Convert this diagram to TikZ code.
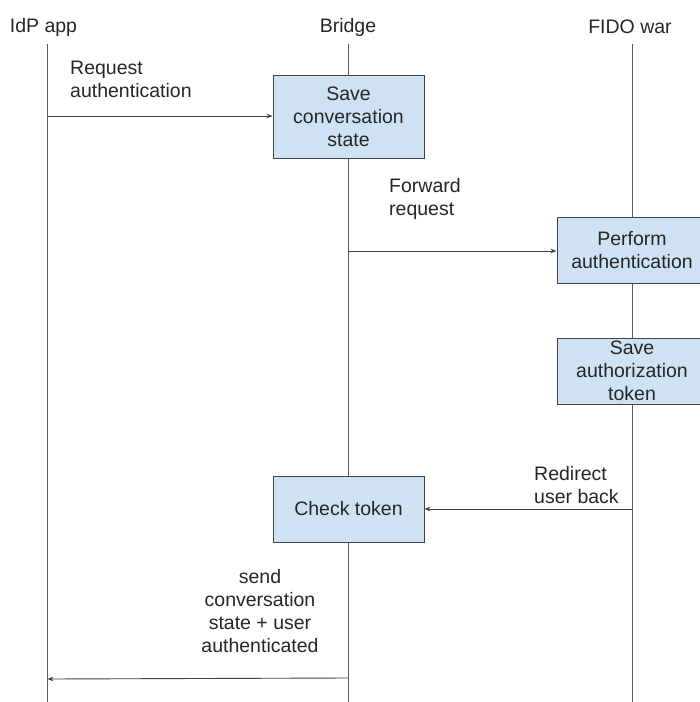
\documentclass[tikz,border=0pt]{standalone}
\usepackage{fontspec}
\setmainfont{Liberation Sans}
\usetikzlibrary{arrows.meta}
\definecolor{boxfill}{HTML}{CFE2F3}
\definecolor{boxline}{HTML}{434343}
\definecolor{lifeline}{HTML}{595959}
\tikzset{
  stepbox/.style={draw=boxline, fill=boxfill, line width=1pt, align=center, inner sep=0pt, minimum width=151pt, text=black!85},
  lbl/.style={inner sep=0pt, text=black!85},
  life/.style={draw=lifeline, line width=1pt},
  msg/.style={draw=black!75, line width=0.9pt, -{Stealth[length=6pt,width=4.5pt]}},
}
\begin{document}
\begin{tikzpicture}[x=1pt, y=-1pt, font=\fontsize{19.5}{23}\selectfont]
\clip (0,0) rectangle (700,702);
\fill[white] (0,0) rectangle (700,702);
% headers
\node[lbl] (h1) at (43.5,27) {IdP app};
\node[lbl] (h2) at (348,27) {Bridge};
\node[lbl] (h3) at (630,27) {FIDO war};
% lifelines
\coordinate (t1) at (47.5,44);  \coordinate (b1) at (47.5,702);
\coordinate (t2) at (348,44);   \coordinate (b2) at (348,702);
\coordinate (t3) at (632,44);   \coordinate (b3) at (632,702);
\draw[life] (t1) -- (b1);
\draw[life] (t2) -- (b2);
\draw[life] (t3) -- (b3);
% boxes
\node[stepbox, minimum height=83pt] (s1) at (348.5,116.5) {Save\\conversation\\state};
\node[stepbox, minimum width=150pt, minimum height=66pt] (s2) at (632,250.5) {Perform\\authentication};
\node[stepbox, minimum width=150pt, minimum height=66pt] (s3) at (632,371) {Save\\authorization\\token};
\node[stepbox, minimum height=66pt] (s4) at (348.5,509) {Check token};
% message anchors
\coordinate (m1) at (47.5,116);
\coordinate (m2) at (348,251);
\coordinate (m3) at (632,509);
\coordinate (m4s) at (348,678);
\coordinate (m4e) at (47.5,679);
\draw[msg] (m1) -- (m1 -| s1.west);
\draw[msg] (m2) -- (m2 -| s2.west);
\draw[msg] (m3) -- (m3 -| s4.east);
\draw[msg] (m4s) -- (m4e);
% labels
\node[lbl, anchor=west, align=left] (l1) at (70,79) {Request\\authentication};
\node[lbl, anchor=west, align=left] (l2) at (389,198.5) {Forward\\request};
\node[lbl, anchor=west, align=left] (l3) at (534,485.5) {Redirect\\user back};
\node[lbl, align=center] (l4) at (260,611) {send\\conversation\\state + user\\authenticated};
\end{tikzpicture}
\end{document}
